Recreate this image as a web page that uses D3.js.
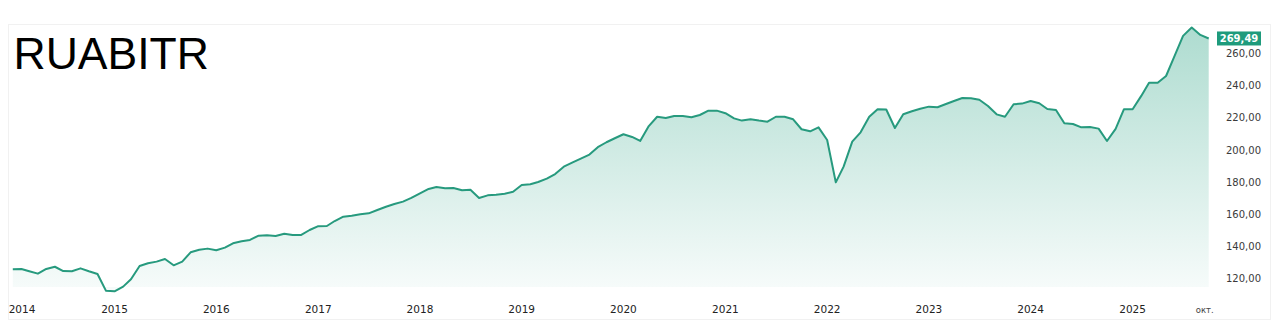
<!DOCTYPE html>
<html>
<head>
<meta charset="utf-8">
<script src="https://cdn.jsdelivr.net/npm/d3@7"></script>
<style>
  html, body { margin: 0; padding: 0; background: #ffffff; }
  svg { display: block; }
</style>
</head>
<body>
<svg id="chart" width="1280" height="326"></svg>
<script>
// ---- Data (monthly, Jan 2014 .. Oct 2025) ----
const title = "RUABITR";
const startMonth = "2014-01";
const values = [
  // 2014
  125.6, 125.8, 124.4, 122.9, 125.8, 127.2, 124.5, 124.4, 126.2, 124.4, 122.7, 112.3,
  // 2015
  111.9, 114.8, 119.4, 127.7, 129.4, 130.4, 132.0, 128.1, 130.4, 136.2, 137.8, 138.5,
  // 2016
  137.5, 139.1, 141.8, 143.1, 143.9, 146.6, 146.8, 146.4, 147.8, 147.0, 147.0, 150.1,
  // 2017
  152.5, 152.6, 155.7, 158.4, 159.0, 159.9, 160.5, 162.6, 164.6, 166.3, 167.8, 170.1,
  // 2018
  173.0, 175.7, 176.9, 176.1, 176.3, 174.9, 175.2, 170.1, 171.7, 172.1, 172.7, 174.0,
  // 2019
  178.2, 178.6, 180.0, 182.1, 185.0, 189.6, 192.1, 194.6, 197.1, 201.7, 204.8, 207.3,
  // 2020
  209.8, 208.1, 205.6, 214.9, 220.7, 219.9, 221.2, 221.2, 220.4, 221.8, 224.5, 224.5,
  // 2021
  222.9, 219.7, 218.3, 219.1, 218.3, 217.6, 220.7, 220.7, 219.1, 212.9, 211.6, 214.1,
  // 2022
  206.2, 179.8, 189.6, 205.2, 211.0, 220.7, 225.4, 225.2, 213.7, 222.3, 224.1, 225.7,
  // 2023
  227.0, 226.6, 228.5, 230.5, 232.4, 232.2, 231.3, 227.4, 222.2, 220.7, 228.5, 228.9,
  // 2024
  230.5, 229.1, 225.5, 224.9, 216.6, 216.2, 214.1, 214.3, 213.3, 205.6, 213.1, 225.4,
  // 2025
  225.4, 233.7, 241.9, 241.9, 246.1, 258.8, 271.1, 276.3, 271.7, 269.49
];
const yTicks = [120, 140, 160, 180, 200, 220, 240, 260];
const yearLabels = ["2014", "2015", "2016", "2017", "2018", "2019", "2020", "2021", "2022", "2023", "2024", "2025"];
const endLabel = "окт.";
const lastValueLabel = "269,49";

// ---- Build series ----
const parseMonth = d3.timeParse("%Y-%m");
const t0 = parseMonth(startMonth);
const data = values.map((v, i) => ({ date: d3.timeMonth.offset(t0, i), value: v }));

const svg = d3.select("#chart");

// frame
svg.append("rect")
  .attr("x", 8.5).attr("y", 24.5).attr("width", 1262).attr("height", 295)
  .attr("fill", "none").attr("stroke", "#f1f1f1").attr("stroke-width", 1);

const x = d3.scaleTime()
  .domain([data[0].date, data[data.length - 1].date])
  .range([12.8, 1208.7]);
const y = d3.scaleLinear().domain([120, 260]).range([278.3, 53.7]);
const plotBottom = 287;

// gradient
const defs = svg.append("defs");
const grad = defs.append("linearGradient")
  .attr("id", "areaGrad")
  .attr("gradientUnits", "userSpaceOnUse")
  .attr("x1", 0).attr("y1", y(276)).attr("x2", 0).attr("y2", plotBottom);
grad.append("stop").attr("offset", "0%").attr("stop-color", "#aedcd0");
grad.append("stop").attr("offset", "100%").attr("stop-color", "#f6fbfa");

const area = d3.area()
  .x(d => x(d.date))
  .y0(plotBottom)
  .y1(d => y(d.value));
const line = d3.line()
  .x(d => x(d.date))
  .y(d => y(d.value));

svg.append("path").datum(data)
  .attr("d", area)
  .attr("fill", "url(#areaGrad)");

svg.append("path").datum(data)
  .attr("d", line)
  .attr("fill", "none")
  .attr("stroke", "#279a7e")
  .attr("stroke-width", 2)
  .attr("stroke-linejoin", "round");

// y axis labels (right)
const fmt = v => d3.format(".2f")(v).replace(".", ",");
svg.append("g").selectAll("text").data(yTicks).join("text")
  .attr("x", 1226)
  .attr("y", d => y(d))
  .attr("dy", "0.36em")
  .attr("font-family", "DejaVu Sans, sans-serif")
  .attr("font-size", 10)
  .attr("fill", "#3a3a3a")
  .text(d => fmt(d));

// last value label
const last = data[data.length - 1];
const ly = y(last.value);
svg.append("rect")
  .attr("x", 1217).attr("y", ly - 7).attr("width", 44).attr("height", 14)
  .attr("fill", "#1e9b7c");
svg.append("text")
  .attr("x", 1239).attr("y", ly).attr("dy", "0.36em")
  .attr("text-anchor", "middle")
  .attr("font-family", "DejaVu Sans, sans-serif")
  .attr("font-size", 10).attr("font-weight", "bold")
  .attr("fill", "#ffffff")
  .text(lastValueLabel);

// x axis labels
const xg = svg.append("g");
xg.selectAll("text.year").data(yearLabels).join("text")
  .attr("class", "year")
  .attr("x", d => Math.max(x(parseMonth(d + "-01")), 22))
  .attr("y", 309)
  .attr("dy", "0.36em")
  .attr("text-anchor", "middle")
  .attr("font-family", "DejaVu Sans, sans-serif")
  .attr("font-size", 10.5)
  .attr("fill", "#222")
  .text(d => d);
xg.append("text")
  .attr("x", x(last.date) - 4)
  .attr("y", 310)
  .attr("dy", "0.36em")
  .attr("text-anchor", "middle")
  .attr("font-family", "DejaVu Sans, sans-serif")
  .attr("font-size", 8.5)
  .attr("fill", "#444")
  .text(endLabel);

// title
svg.append("text")
  .attr("x", 13.5).attr("y", 68.5)
  .attr("font-family", "Liberation Sans, Arial, sans-serif")
  .attr("font-size", 44.5)
  .attr("fill", "#000")
  .text(title);
</script>
</body>
</html>
